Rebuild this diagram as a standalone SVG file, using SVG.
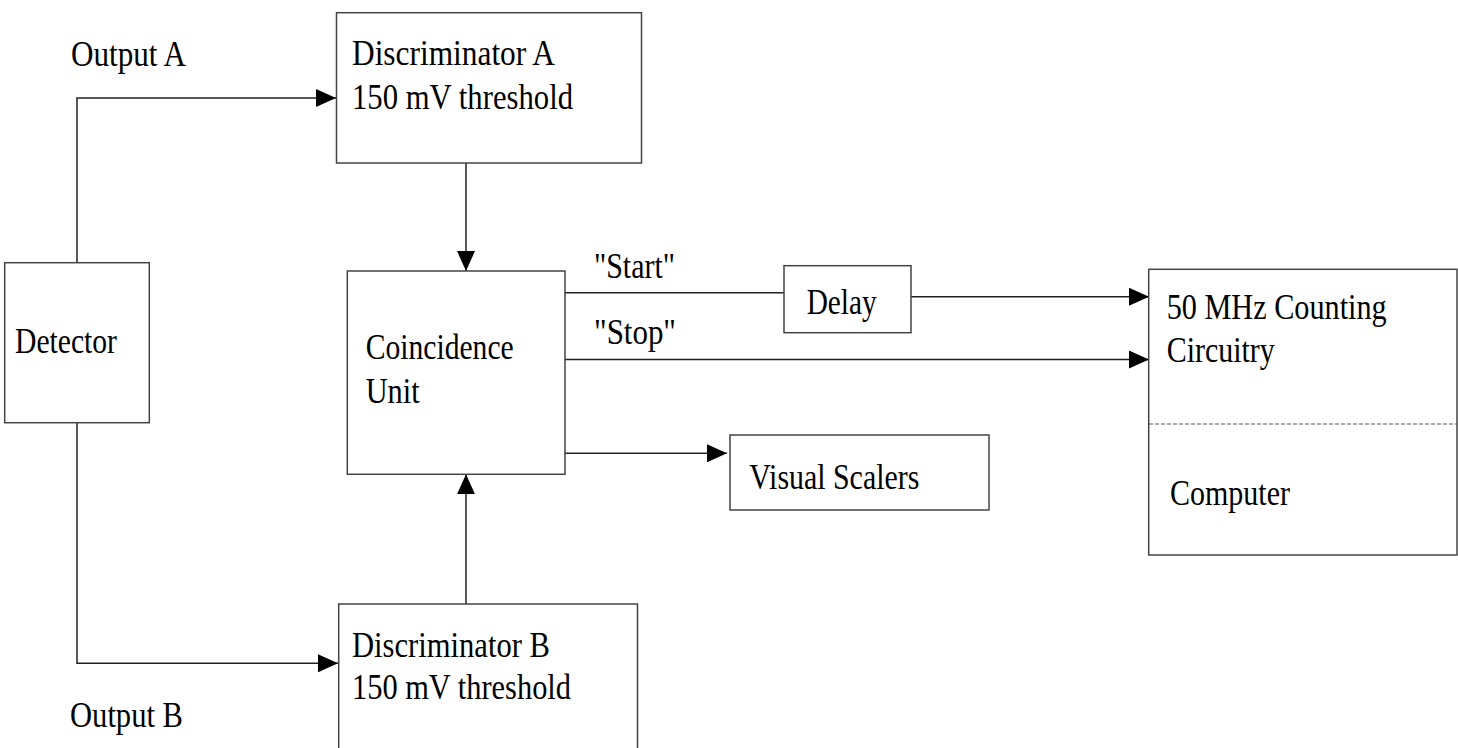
<svg xmlns="http://www.w3.org/2000/svg" width="1458" height="748" viewBox="0 0 1458 748">
<style>
.box{fill:#fff;stroke:#444;stroke-width:1.5}
.ln{fill:none;stroke:#222;stroke-width:1.5}
.dash{fill:none;stroke:#555;stroke-width:1.2;stroke-dasharray:4 2}
text{font-family:"Liberation Serif","Times New Roman",serif;font-size:36px;fill:#000}
</style>
<defs>
<marker id="ah" markerUnits="userSpaceOnUse" markerWidth="20" markerHeight="18" refX="20" refY="9" orient="auto">
<path d="M0,0 L20,9 L0,18 z" fill="#000"/>
</marker>
</defs>
<rect width="1458" height="748" fill="#fff"/>
<g id="connectors">
<path class="ln" d="M77,262.7 V98 H336" marker-end="url(#ah)"/>
<path class="ln" d="M77,422.7 V663.3 H338" marker-end="url(#ah)"/>
<path class="ln" d="M466,163 V271" marker-end="url(#ah)"/>
<path class="ln" d="M466,604 V474.3" marker-end="url(#ah)"/>
<path class="ln" d="M565,292.7 H784"/>
<path class="ln" d="M911,296.7 H1149" marker-end="url(#ah)"/>
<path class="ln" d="M565,359.5 H1149" marker-end="url(#ah)"/>
<path class="ln" d="M565,453.3 H727" marker-end="url(#ah)"/>
<text x="71" y="66" textLength="115" lengthAdjust="spacingAndGlyphs">Output A</text>
<text x="70" y="726.7" textLength="113" lengthAdjust="spacingAndGlyphs">Output B</text>
<text x="594" y="278.3" textLength="81" lengthAdjust="spacingAndGlyphs">"Start"</text>
<text x="594" y="344" textLength="82" lengthAdjust="spacingAndGlyphs">"Stop"</text>
</g>
<g id="discA">
<rect class="box" x="336.5" y="12.7" width="305" height="150.3"/>
<text x="352" y="65" textLength="203" lengthAdjust="spacingAndGlyphs">Discriminator A</text>
<text x="352" y="109" textLength="221" lengthAdjust="spacingAndGlyphs">150 mV threshold</text>
</g>
<g id="detector">
<rect class="box" x="4.7" y="262.7" width="144.6" height="160"/>
<text x="15" y="353.3" textLength="102" lengthAdjust="spacingAndGlyphs">Detector</text>
</g>
<g id="coincidence">
<rect class="box" x="347.3" y="271" width="217.7" height="203.3"/>
<text x="365.7" y="359.3" textLength="148" lengthAdjust="spacingAndGlyphs">Coincidence</text>
<text x="365.7" y="403.3" textLength="54" lengthAdjust="spacingAndGlyphs">Unit</text>
</g>
<g id="delay">
<rect class="box" x="784" y="265.7" width="127" height="67"/>
<text x="806.7" y="314.3" textLength="70" lengthAdjust="spacingAndGlyphs">Delay</text>
</g>
<g id="visual">
<rect class="box" x="730" y="435" width="259" height="75"/>
<text x="749.3" y="489" textLength="170" lengthAdjust="spacingAndGlyphs">Visual Scalers</text>
</g>
<g id="counting">
<rect class="box" x="1148.7" y="269.3" width="308.3" height="285.7"/>
<line class="dash" x1="1149" y1="424" x2="1457" y2="424"/>
<text x="1166.7" y="319.3" textLength="220" lengthAdjust="spacingAndGlyphs">50 MHz Counting</text>
<text x="1166.7" y="361.7" textLength="108" lengthAdjust="spacingAndGlyphs">Circuitry</text>
<text x="1170" y="505" textLength="120" lengthAdjust="spacingAndGlyphs">Computer</text>
</g>
<g id="discB">
<rect class="box" x="338.7" y="604" width="298.8" height="160"/>
<text x="352" y="656.7" textLength="198" lengthAdjust="spacingAndGlyphs">Discriminator B</text>
<text x="352" y="699.3" textLength="219" lengthAdjust="spacingAndGlyphs">150 mV threshold</text>
</g>
</svg>
